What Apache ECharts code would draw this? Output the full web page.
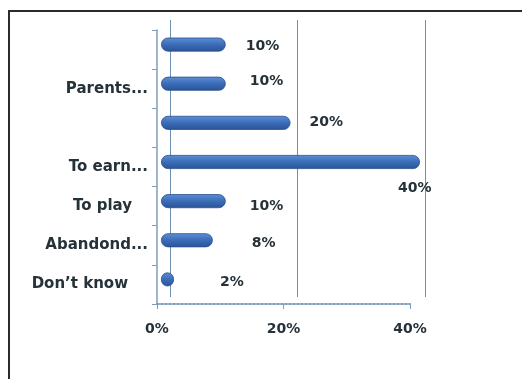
<!DOCTYPE html>
<html><head><meta charset="utf-8">
<script src="https://cdn.jsdelivr.net/npm/echarts@6/dist/echarts.min.js"></script>
<style>html,body{margin:0;padding:0;background:#fff}#c{width:522px;height:379px}</style>
</head><body><div id="c"></div>
<script>
const categories = ['', 'Parents...', '', 'To earn...', 'To play', 'Abandond...', 'Don\u2019t know'];
const values = [10, 10, 20, 40, 10, 8, 2];
const xTicks = [0, 20, 40];

// label placement tweaks (styling only)
const labelOffsets = [[20,2],[24,-2],[19,0],[-22,26],[24,5],[39,3],[46,3]];
const catPad = [0,0,0,0,16,0,20];

const chart = echarts.init(document.getElementById('c'));
const font = '"DejaVu Sans", sans-serif';
const txt = '#25323a';
const axisCol = '#7f9cba';

chart.setOption({
  backgroundColor: '#fff',
  animation: false,
  graphic: [{type:'rect', shape:{x:9,y:11,width:560,height:420}, style:{fill:'none', stroke:'#2b2b2b', lineWidth:2}, z:-1}],
  grid: [
    {left:170, top:20, width:255, height:277},
    {left:157, top:30, width:253, height:274},
    {left:161, top:25, width:259, height:274}
  ],
  xAxis: [
    {gridIndex:0, type:'value', min:0, max:40, interval:20, axisLine:{show:false}, axisTick:{show:false}, axisLabel:{show:false},
     splitLine:{show:true, lineStyle:{color:'#6d8fb0', width:1}}},
    {gridIndex:1, type:'value', min:0, max:40, interval:20, splitLine:{show:false},
     axisLine:{show:true, lineStyle:{color:axisCol, width:2, type:'dotted'}},
     axisTick:{show:true, length:5, lineStyle:{color:axisCol}},
     axisLabel:{margin:18, color:txt, fontFamily:font, fontWeight:'bold', fontSize:14, formatter: v => v + '%'}},
    {gridIndex:2, type:'value', min:0, max:40, show:false}
  ],
  yAxis: [
    {gridIndex:0, type:'category', data:categories, inverse:true, show:false},
    {gridIndex:1, type:'category', inverse:true,
     data: categories.map((c,i)=>({value:c, textStyle:{padding:[0,catPad[i],0,0]}})),
     axisLine:{show:true, lineStyle:{color:axisCol, width:1.5}},
     axisTick:{show:true, length:5, lineStyle:{color:axisCol}},
     axisLabel:{margin:9, color:txt, fontFamily:font, fontWeight:'bold', fontSize:15}},
    {gridIndex:2, type:'category', data:categories, inverse:true, show:false}
  ],
  series: [{
    type:'bar', xAxisIndex:2, yAxisIndex:2, barWidth:14,
    data: values.map((v,i)=>({value:v, label:{offset:labelOffsets[i]}})),
    itemStyle:{
      borderRadius:7,
      color:{type:'linear', x:0,y:0,x2:0,y2:1, colorStops:[{offset:0,color:'#5d8fd6'},{offset:0.5,color:'#3b6cb8'},{offset:1,color:'#2a5396'}]},
      borderColor:'#2b4f8c', borderWidth:0.8
    },
    label:{show:true, position:'right', distance:0, formatter: p => p.value + '%',
      color:txt, fontFamily:font, fontWeight:'bold', fontSize:14}
  }]
});
</script></body></html>
